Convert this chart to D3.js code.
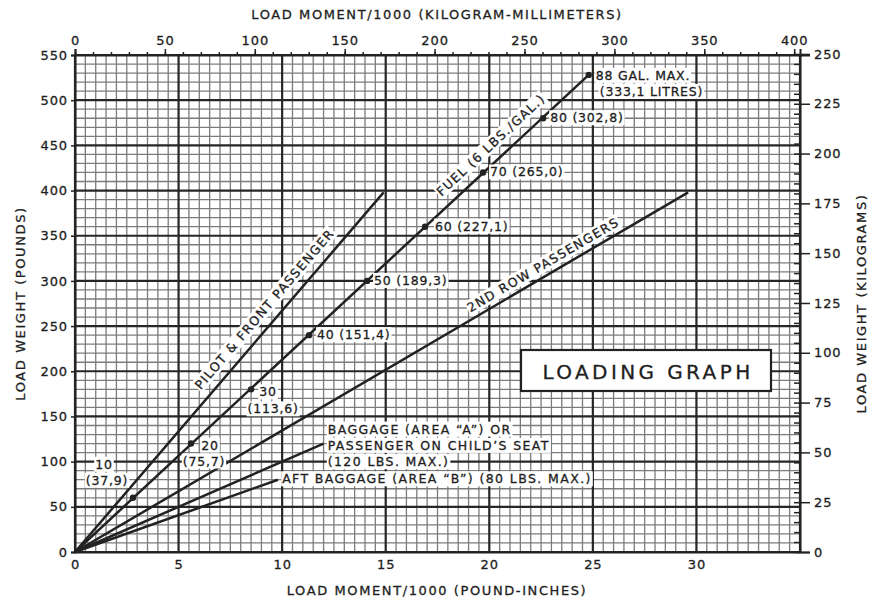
<!DOCTYPE html>
<html>
<head>
<meta charset="utf-8">
<script src="https://cdn.jsdelivr.net/npm/d3@7"></script>
<style>
  body { margin: 0; background: #fff; }
  text { font-family: "DejaVu Sans", sans-serif; fill: #1e1e1e; stroke: #1e1e1e; stroke-width: 0.3px; }
  .tick text { font-size: 13px; letter-spacing: 0.9px; }
  .domain { stroke: #222; stroke-width: 2; }
  .tick line { stroke: #222; stroke-width: 1.5; }
  .grid-minor { stroke: #7c7c7c; stroke-width: 1.3; }
  .grid-major { stroke: #262626; stroke-width: 2.2; }
  .load-line { stroke: #222; stroke-width: 2.5; fill: none; }
  .note { font-size: 12.5px; letter-spacing: 1.4px; }
  .num { font-size: 12.5px; letter-spacing: 0.8px; }
  .title { font-size: 13px; letter-spacing: 1.6px; }
</style>
</head>
<body>
<script>
var w = 871, h = 602;
var margin = {top: 55, right: 71, bottom: 50, left: 75};

// data: load moment/1000 (lb-in) vs load weight (lb)
var pilotLine = [[0, 0], [14.9, 398]];
var fuelLine = [[0, 0], [24.8, 528]];
var rowTwoLine = [[0, 0], [29.6, 398]];
var baggageALine = [[0, 0], [12.0, 120]];
var aftBaggageLine = [[0, 0], [9.8, 80]];

// fuel points (gallons, pounds, moment, litres)
var fuelGal = ["10", "20", "30", "40", "50", "60", "70", "80", "88"];
var fuelLb = [60, 120, 180, 240, 300, 360, 420, 480, 528];
var fuelMoment = [2.8, 5.6, 8.5, 11.3, 14.1, 16.9, 19.7, 22.6, 24.8];
var fuelLitres = ["37,9", "75,7", "113,6", "151,4", "189,3", "227,1", "265,0", "302,8", "333,1"];

// ticks
var bottomTicks = [0, 5, 10, 15, 20, 25, 30];
var leftTicks = [0, 50, 100, 150, 200, 250, 300, 350, 400, 450, 500, 550];
var topTicks = [0, 50, 100, 150, 200, 250, 300, 350, 400];
var rightTicks = [0, 25, 50, 75, 100, 125, 150, 175, 200, 225, 250];

var LB_TO_KG = 0.45359;
var LBIN_TO_KGMM = 11.5212;

var svg = d3.select("body").append("svg")
    .attr("width", w)
    .attr("height", h);

var x = d3.scaleLinear().domain([0, 35]).range([margin.left, w - margin.right]);
var y = d3.scaleLinear().domain([0, 550]).range([h - margin.bottom, margin.top]);
var xTop = d3.scaleLinear().domain([0, 35 * LBIN_TO_KGMM]).range(x.range());
var yRight = d3.scaleLinear().domain([0, 550 * LB_TO_KG]).range(y.range());

// grid
var grid = svg.append("g");
grid.selectAll(".vminor")
    .data(d3.range(0, 35.01, 0.5))
    .enter().append("line")
    .attr("class", function(d) { return d % 5 === 0 ? "grid-major" : "grid-minor"; })
    .attr("x1", function(d) { return x(d); })
    .attr("x2", function(d) { return x(d); })
    .attr("y1", y(0))
    .attr("y2", y(550));
grid.selectAll(".hminor")
    .data(d3.range(0, 551, 10))
    .enter().append("line")
    .attr("class", function(d) { return d % 50 === 0 ? "grid-major" : "grid-minor"; })
    .attr("x1", x(0))
    .attr("x2", x(35))
    .attr("y1", function(d) { return y(d); })
    .attr("y2", function(d) { return y(d); });
// redraw majors on top of minors
grid.selectAll(".grid-major").raise();

// axes
svg.append("g")
    .attr("transform", "translate(0," + y(0) + ")")
    .call(d3.axisBottom(x).tickValues(bottomTicks).tickSize(0).tickPadding(8));

svg.append("g")
    .attr("transform", "translate(" + x(0) + ",0)")
    .call(d3.axisLeft(y).tickValues(leftTicks).tickSize(4).tickPadding(3));

// top axis: minor ticks then labelled majors
svg.append("g")
    .attr("transform", "translate(0," + y(550) + ")")
    .call(d3.axisTop(xTop).tickValues(d3.range(0, 401, 10)).tickSize(3).tickFormat(""))
    .call(function(g) { g.select(".domain").remove(); });
svg.append("g")
    .attr("transform", "translate(0," + y(550) + ")")
    .call(d3.axisTop(xTop).tickValues(topTicks).tickSize(6).tickPadding(4));

// right axis: minor ticks inside, majors outside
svg.append("g")
    .attr("transform", "translate(" + x(35) + ",0)")
    .call(d3.axisLeft(yRight).tickValues(d3.range(0, 251, 5)).tickSize(6).tickFormat(""))
    .call(function(g) { g.select(".domain").remove(); });
svg.append("g")
    .attr("transform", "translate(" + x(35) + ",0)")
    .call(d3.axisRight(yRight).tickValues(rightTicks).tickSize(10).tickPadding(4));

// axis titles
svg.append("text").attr("class", "title")
    .attr("x", 437).attr("y", 19)
    .attr("text-anchor", "middle")
    .text("LOAD MOMENT/1000 (KILOGRAM-MILLIMETERS)");
svg.append("text").attr("class", "title")
    .attr("x", 437).attr("y", 595)
    .attr("text-anchor", "middle")
    .text("LOAD MOMENT/1000 (POUND-INCHES)");
svg.append("text").attr("class", "title")
    .attr("transform", "translate(25," + y(275) + ") rotate(-90)")
    .attr("text-anchor", "middle")
    .text("LOAD WEIGHT (POUNDS)");
svg.append("text").attr("class", "title")
    .attr("transform", "translate(866," + y(275) + ") rotate(-90)")
    .attr("text-anchor", "middle")
    .text("LOAD WEIGHT (KILOGRAMS)");

// load lines
var line = d3.line().x(function(d) { return x(d[0]); }).y(function(d) { return y(d[1]); });
[pilotLine, fuelLine, rowTwoLine, baggageALine, aftBaggageLine].forEach(function(l) {
  svg.append("path").attr("class", "load-line").attr("d", line(l));
});

// helper: text with white backing
function label(parent, txt, px, py, anchor, rot, cls) {
  var g = parent.append("g")
      .attr("transform", "translate(" + px + "," + py + ")" + (rot ? " rotate(" + rot + ")" : ""));
  var bg = g.append("rect").attr("fill", "#fff");
  var t = g.append("text").attr("class", cls || "note")
      .attr("text-anchor", anchor || "start")
      .text(txt);
  var b = t.node().getBBox();
  bg.attr("x", b.x - 1).attr("y", b.y).attr("width", b.width + 2).attr("height", b.height);
  return g;
}

// angle of a line in screen space
function angle(l) {
  var p = l[l.length - 1];
  return Math.atan2(y(p[1]) - y(0), x(p[0]) - x(0)) * 180 / Math.PI;
}

var notes = svg.append("g");

// fuel dot labels
var fuelDx = [-29, 19, 17, 8, 7, 10, 7, 7, 7];
fuelGal.forEach(function(g, i) {
  var px = x(fuelMoment[i]), py = y(fuelLb[i]);
  if (i < 3) {
    label(notes, g, px + fuelDx[i], py + (i === 0 ? -29 : (i === 1 ? 6 : 7)), "middle", 0, "num");
    label(notes, "(" + fuelLitres[i] + ")", px + fuelDx[i] + (i === 0 ? 3 : (i === 1 ? -6 : 5)), py + (i === 0 ? -13 : (i === 1 ? 22 : 24)), "middle", 0, "num");
  } else if (i === 8) {
    label(notes, g + " GAL. MAX.", px + fuelDx[i], py + 5, "start", 0, "num");
    label(notes, "(" + fuelLitres[i] + " LITRES)", px + fuelDx[i] + 4, py + 21, "start", 0, "num");
  } else {
    label(notes, g + " (" + fuelLitres[i] + ")", px + fuelDx[i], py + 4, "start", 0, "num");
  }
});

svg.append("g").selectAll("circle")
    .data(fuelGal)
    .enter().append("circle")
    .attr("cx", function(d, i) { return x(fuelMoment[i]); })
    .attr("cy", function(d, i) { return y(fuelLb[i]); })
    .attr("r", 3.2)
    .attr("fill", "#222");

// line labels along the lines
label(notes, "PILOT & FRONT PASSENGER", x(9.6) - 6, y(258) - 7, "middle", angle(pilotLine));
label(notes, "FUEL (6 LBS./GAL.)", x(20.6) - 8, y(437) - 9, "middle", angle(fuelLine));
label(notes, "2ND ROW PASSENGERS", x(22.9) - 4, y(306) - 7, "middle", angle(rowTwoLine));

label(notes, "BAGGAGE (AREA \u201CA\u201D) OR", x(12.2), y(131), "start");
label(notes, "PASSENGER ON CHILD\u2019S SEAT", x(12.2), y(113), "start");
label(notes, "(120 LBS. MAX.)", x(12.2), y(95), "start");
label(notes, "AFT BAGGAGE (AREA \u201CB\u201D) (80 LBS. MAX.)", x(10.0), y(76), "start");

// loading graph box
var box = svg.append("g").attr("transform", "translate(521,350)");
box.append("rect")
    .attr("width", 250).attr("height", 41)
    .attr("fill", "#fff").attr("stroke", "#222").attr("stroke-width", 2.2);
box.append("text")
    .attr("x", 127).attr("y", 29)
    .attr("text-anchor", "middle")
    .style("font-size", "20px").style("letter-spacing", "3.4px")
    .text("LOADING GRAPH");
</script>
</body>
</html>
